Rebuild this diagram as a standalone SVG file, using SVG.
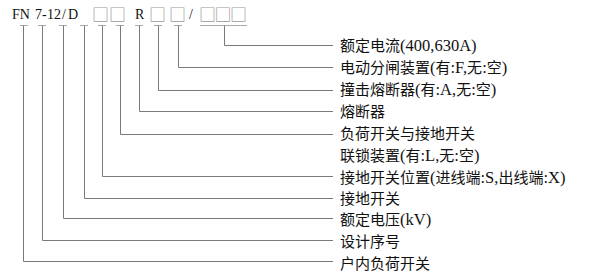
<svg xmlns="http://www.w3.org/2000/svg" width="600" height="275" viewBox="0 0 600 275">
<style>
.code{font-family:"Liberation Serif","Noto Sans CJK SC",serif;font-size:14px;fill:#111}
.box{font-family:"Noto Sans CJK SC",sans-serif;font-size:17px;fill:#999}
.lbl{font-family:"Liberation Serif","Noto Sans CJK SC",serif;font-size:15px;fill:#111}
.lat{font-size:16.5px}
.ln{fill:none;stroke:#7a7a7a;stroke-width:1}
.tk{fill:none;stroke:#aaa;stroke-width:1}
</style>
<rect width="600" height="275" fill="#fff"/>
<g id="code">
<text class="code" x="12" y="18.7">FN</text>
<text class="code" x="35 42 47 54 62 68" y="18.7">7-12/D</text>
<text class="box" x="92 109" y="20.5">□□</text>
<text class="code" x="135" y="18.7">R</text>
<text class="box" x="149 169" y="20.5">□□</text>
<text class="code" x="189" y="18.7">/</text>
<text class="box" x="199 214.5 230" y="20.5">□□□</text>
</g>
<g id="connectors">
<path class="tk" d="M20,25.5h8M38,25.5h8M59,25.5h8M80,25.5h8M98,25.5h8M116,25.5h8M135,25.5h8M154,25.5h8M174,25.5h8M200,25.5h47"/>
<path class="ln" d="M224.5,25.5V45.5H333"/>
<path class="ln" d="M178.5,25.5V67.5H333"/>
<path class="ln" d="M158.5,25.5V90.5H333"/>
<path class="ln" d="M139.5,25.5V111.5H333"/>
<path class="ln" d="M120.5,25.5V134.5H333"/>
<path class="ln" d="M102.5,25.5V176.5H333"/>
<path class="ln" d="M84.5,25.5V198.5H333"/>
<path class="ln" d="M63.5,25.5V218.5H333"/>
<path class="ln" d="M42.5,25.5V240.5H333"/>
<path class="ln" d="M23.5,25.5V261.5H333"/>
</g>
<g id="n1"><text class="lbl" x="340" y="50.5">额定电流<tspan class="lat">(400,630A)</tspan></text></g>
<g id="n2"><text class="lbl" x="340" y="72.5">电动分闸装置<tspan class="lat">(</tspan>有<tspan class="lat">:F,</tspan>无<tspan class="lat">:</tspan>空<tspan class="lat">)</tspan></text></g>
<g id="n3"><text class="lbl" x="340" y="95">撞击熔断器<tspan class="lat">(</tspan>有<tspan class="lat">:A,</tspan>无<tspan class="lat">:</tspan>空<tspan class="lat">)</tspan></text></g>
<g id="n4"><text class="lbl" x="340" y="117">熔断器</text></g>
<g id="n5"><text class="lbl" x="340" y="139">负荷开关与接地开关</text></g>
<g id="n6"><text class="lbl" x="340" y="160.5">联锁装置<tspan class="lat">(</tspan>有<tspan class="lat">:L,</tspan>无<tspan class="lat">:</tspan>空<tspan class="lat">)</tspan></text></g>
<g id="n7"><text class="lbl" x="340" y="182.8">接地开关位置<tspan class="lat">(</tspan>进线端<tspan class="lat">:S,</tspan>出线端<tspan class="lat">:X)</tspan></text></g>
<g id="n8"><text class="lbl" x="340" y="204">接地开关</text></g>
<g id="n9"><text class="lbl" x="340" y="225">额定电压<tspan class="lat">(kV)</tspan></text></g>
<g id="n10"><text class="lbl" x="340" y="247.2">设计序号</text></g>
<g id="n11"><text class="lbl" x="340" y="268.8">户内负荷开关</text></g>
</svg>
